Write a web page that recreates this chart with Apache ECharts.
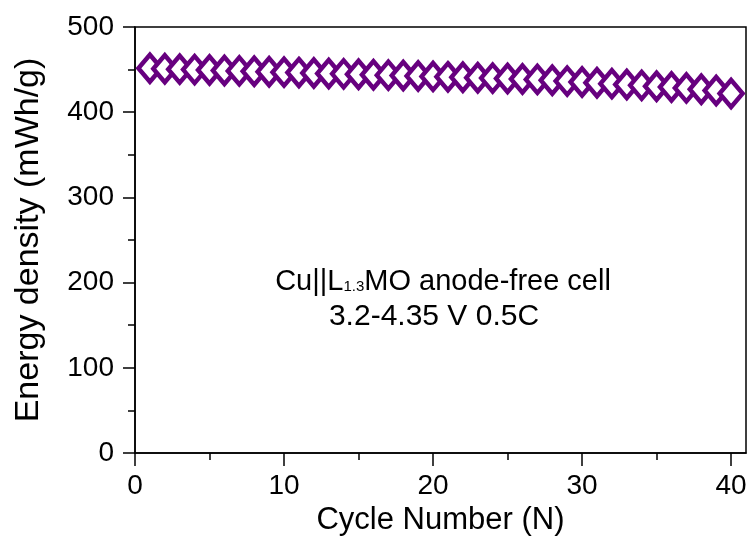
<!DOCTYPE html>
<html>
<head>
<meta charset="utf-8">
<script src="https://cdn.jsdelivr.net/npm/echarts@6/dist/echarts.min.js"></script>
<style>
html,body{margin:0;padding:0;background:#fff;}
#chart{width:753px;height:542px;}
</style>
</head>
<body>
<div id="chart"></div>
<script>
// ---- data ----
const cycles = [1,2,3,4,5,6,7,8,9,10,11,12,13,14,15,16,17,18,19,20,21,22,23,24,25,26,27,28,29,30,31,32,33,34,35,36,37,38,39,40];
const energyDensity = [451.5,451,450.5,450,449.5,449,448.5,448,447.5,447,446.5,446,445.5,445,444.5,444,443.5,443,442.5,442,441.5,441,440.5,440,439.5,439,438.5,437.5,436.5,435.5,434.5,433.5,432.5,431.5,430.5,429.5,428.5,427,425.5,422];
const xMajorTicks = [0,10,20,30,40];
const xMinorTicks = [5,15,25,35];
const xTitle = 'Cycle Number (N)';
const yTitle = 'Energy density (mWh/g)';
const noteLine1 = ['Cu||L', '1.3', 'MO anode-free cell'];
const noteLine2 = '3.2-4.35 V 0.5C';

const FONT = 'Liberation Sans, Arial, sans-serif';
const chart = echarts.init(document.getElementById('chart'));
const points = cycles.map((c, i) => [c, energyDensity[i]]);

chart.setOption({
  animation: false,
  backgroundColor: '#fff',
  grid: {left: 135, right: 7, top: 27, bottom: 89, show: true, borderColor: '#000', borderWidth: 1.5, backgroundColor: 'transparent'},
  xAxis: [{
    type: 'value', min: 0, max: 41, interval: 10,
    name: xTitle, nameLocation: 'middle', nameGap: 51,
    nameTextStyle: {fontFamily: FONT, fontSize: 31, color: '#000'},
    axisLine: {show: true, onZero: false, lineStyle: {color: '#000', width: 1.5}},
    axisTick: {show: true, length: 13, customValues: xMajorTicks, lineStyle: {color: '#000', width: 1.5}},
    axisLabel: {customValues: xMajorTicks, fontFamily: FONT, fontSize: 28, color: '#000', margin: 19},
    splitLine: {show: false}
  }, {
    type: 'value', min: 0, max: 41, position: 'bottom',
    axisLine: {show: false},
    axisTick: {show: true, length: 7, customValues: xMinorTicks, lineStyle: {color: '#000', width: 1.5}},
    axisLabel: {show: false},
    splitLine: {show: false}
  }],
  yAxis: {
    type: 'value', min: 0, max: 500, interval: 100,
    name: yTitle, nameLocation: 'middle', nameGap: 89,
    nameTextStyle: {fontFamily: FONT, fontSize: 34, color: '#000'},
    axisLine: {show: true, onZero: false, lineStyle: {color: '#000', width: 1.5}},
    axisTick: {show: true, length: 12, lineStyle: {color: '#000', width: 1.5}},
    minorTick: {show: true, splitNumber: 2, length: 7, lineStyle: {color: '#000', width: 1.5}},
    axisLabel: {fontFamily: FONT, fontSize: 28, color: '#000', margin: 21},
    splitLine: {show: false}
  },
  series: [{
    type: 'scatter',
    data: points,
    symbol: 'diamond',
    symbolSize: [23, 27],
    itemStyle: {color: '#fff', borderColor: '#67007f', borderWidth: 4.5, opacity: 1}
  }],
  graphic: [{
    type: 'text', x: 443, y: 282,
    style: {
      text: '{a|' + noteLine1[0] + '}{s|' + noteLine1[1] + '}{a|' + noteLine1[2] + '}',
      align: 'center', verticalAlign: 'middle',
      rich: {
        a: {fontFamily: FONT, fontSize: 29, color: '#000', lineHeight: 36},
        s: {fontFamily: FONT, fontSize: 15, color: '#000', lineHeight: 36, padding: [10, 0, 0, 0]}
      }
    }
  }, {
    type: 'text', x: 434, y: 317,
    style: {
      text: noteLine2, align: 'center', verticalAlign: 'middle',
      fontFamily: FONT, fontSize: 30, fill: '#000'
    }
  }]
});
</script>
</body>
</html>
